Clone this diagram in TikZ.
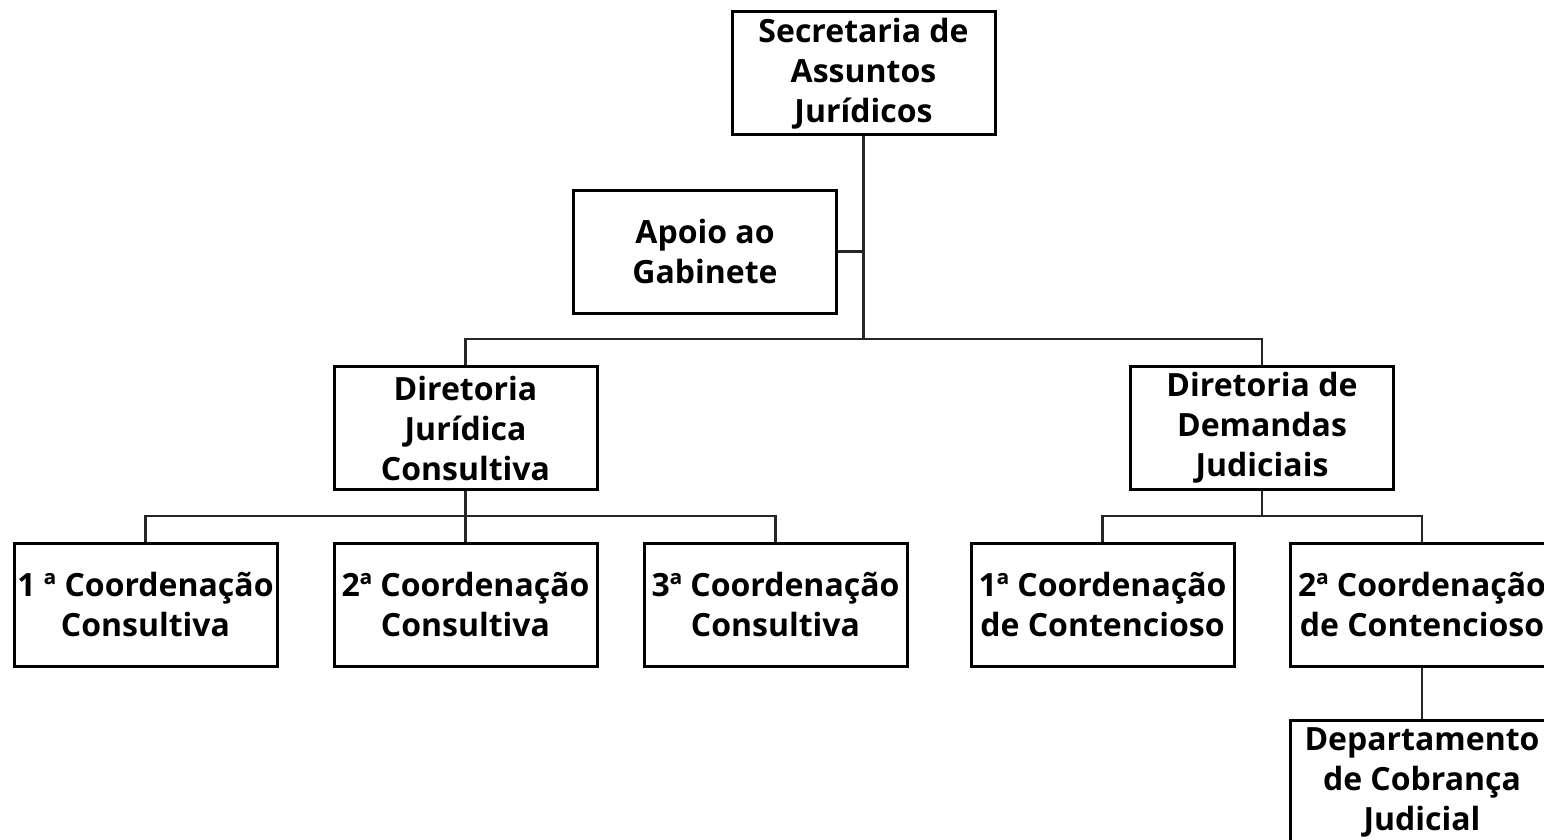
\documentclass[tikz,border=0pt]{standalone}
\usepackage{fontspec}
\setmainfont{Open Sans}
\begin{document}
\begin{tikzpicture}[x=1pt,y=-1pt,
  box/.style={draw=black,line width=3pt,fill=white,minimum width=263pt,minimum height=123pt,
    inner sep=0pt,align=center,font=\bfseries\fontsize{32}{40}\selectfont},
  conn/.style={draw=black!85,line width=2.2pt}]
\useasboundingbox (0,0) rectangle (1544,840);
\clip (0,0) rectangle (1544,840);
\fill[white] (0,0) rectangle (1544,840);
\node[box] (sec) at (863.5,73.5) {Secretaria de\\Assuntos\\Jurídicos};
\node[box] (apoio) at (705,251.5) {Apoio ao\\Gabinete};
\node[box] (djc) at (465.5,428) {Diretoria\\Jurídica\\Consultiva};
\node[box] (ddj) at (1262,428) {Diretoria de\\Demandas\\Judiciais};
\node[box] (c1) at (145.5,604.5) {1 ª Coordenação\\Consultiva};
\node[box] (c2) at (465.5,604.5) {2ª Coordenação\\Consultiva};
\node[box] (c3) at (775.5,604.5) {3ª Coordenação\\Consultiva};
\node[box] (ct1) at (1102.5,604.5) {1ª Coordenação\\de Contencioso};
\node[box] (ct2) at (1422,604.5) {2ª Coordenação\\de Contencioso};
\node[box] (dep) at (1422,782) {Departamento\\de Cobrança\\Judicial};
\coordinate (j1) at (863.5,339);
\coordinate (j2) at (465.5,516);
\coordinate (j3) at (1262,516);
\draw[conn] (sec.south) -- (j1);
\draw[conn] (apoio.east) -- (apoio.east -| sec.south);
\draw[conn] (djc.north) |- (j1) -| (ddj.north);
\draw[conn] (djc.south) -- (c2.north);
\draw[conn] (c1.north) |- (j2) -| (c3.north);
\draw[conn] (ddj.south) -- (j3);
\draw[conn] (ct1.north) |- (j3) -| (ct2.north);
\draw[conn] (ct2.south) -- (dep.north);
\end{tikzpicture}
\end{document}
